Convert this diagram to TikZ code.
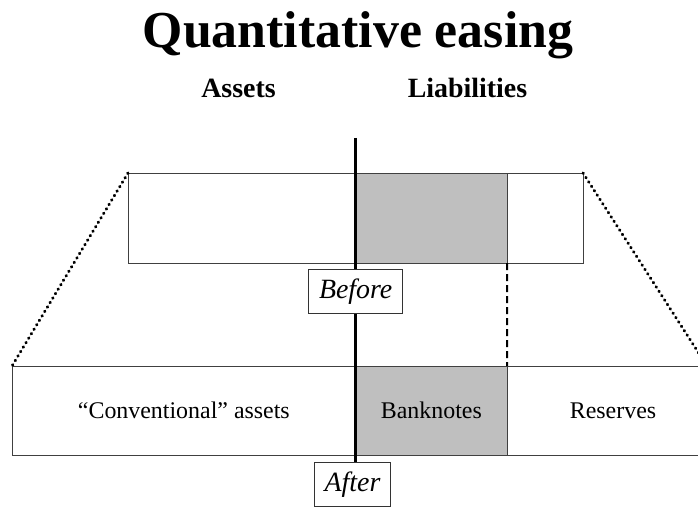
\documentclass[tikz,border=0pt]{standalone}
\usepackage{fontspec}
\setmainfont{Liberation Serif}
\usetikzlibrary{positioning}
\begin{document}
\begin{tikzpicture}
  [x=1bp,y=-1bp,every node/.style={inner sep=0pt,outer sep=0pt}]
  \tikzstyle{cell} = [draw=black!75,line width=.8bp,minimum height=90bp,anchor=north west,font=\fontsize{24}{28}\selectfont]
  \tikzstyle{cash} = [cell,fill=black!25]
  \tikzstyle{head} = [anchor=base,font=\bfseries\fontsize{28}{32}\selectfont]
  \tikzstyle{tag} = [draw=black!80,fill=white,line width=.8bp,inner xsep=10.5bp,minimum height=44.5bp,font=\itshape\fontsize{28}{32}\selectfont]
  \useasboundingbox (0,0) rectangle (698,507);
  \node[head,font=\bfseries\fontsize{52}{60}\selectfont] (title) at (358,47.5) {Quantitative easing};
  \node[head] (assets) at (238.5,97.5) {Assets};
  \node[head] (liab) at (467.5,97.5) {Liabilities};
  % before
  \node[cell,minimum width=227.7bp] (b1) at (128,173) {};
  \node[cash,minimum width=151.3bp,right=0pt of b1] (b2) {};
  \node[cell,minimum width=76bp,right=0pt of b2] (b3) {};
  % after
  \node[cell,minimum height=89bp,minimum width=343.7bp] (a1) at (12,366) {``Conventional'' assets};
  \node[cash,minimum height=89bp,minimum width=151.3bp,right=0pt of a1] (a2) {Banknotes};
  \node[cell,minimum height=89bp,minimum width=212bp,right=0pt of a2] (a3) {Reserves};
  \coordinate (top) at (355.7,138);
  \coordinate (foot) at (355.7,462);
  \coordinate (rim) at (707,366);
  \draw[line width=2.5bp] (top) -- (foot);
  \draw[line width=2bp,dash pattern=on 7bp off 4bp] (b2.south east) -- (a2.north east);
  \foreach \from/\to in {b1.north west/a1.north west,b3.north east/rim}
    \draw[line width=3bp,line cap=round,dash pattern=on .6bp off 4.6bp] (\from) -- (\to);
  \node[tag] (before) at (355.7,291.5) {Before};
  \node[tag,anchor=north] (after) at (352.5,462) {After};
\end{tikzpicture}
\end{document}
